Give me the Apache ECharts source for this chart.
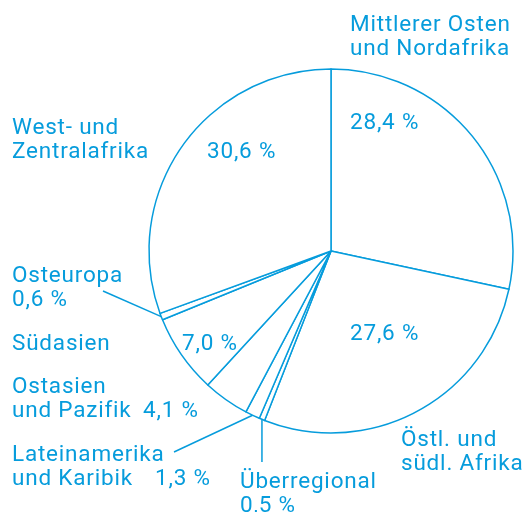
<!DOCTYPE html>
<html>
<head>
<meta charset="utf-8">
<script src="https://cdn.jsdelivr.net/npm/echarts@6/dist/echarts.min.js"></script>
<style>
  html, body { margin: 0; padding: 0; background: #fff; }
  #chart { width: 526px; height: 512px; }
</style>
</head>
<body>
<div id="chart"></div>
<script>
// clockwise from 12 o'clock
const regions = [
    'Mittlerer Osten\nund Nordafrika',
    'Östl. und\nsüdl. Afrika',
    'Überregional',
    'Lateinamerika\nund Karibik',
    'Ostasien\nund Pazifik',
    'Südasien',
    'Osteuropa',
    'West- und\nZentralafrika'
];
const shares = [28.4, 27.6, 0.5, 1.3, 4.1, 7.0, 0.6, 30.6];

// where the value goes: inside the slice, under the name, or beside the last name line
const valueInside = [true, true, false, false, false, true, false, true];
const valueBeside = [null, null, null, 143, 131, null, null, null];
const withLeader = [false, false, true, true, false, false, true, false];

// label placement (top-left of the text box)
const namePos = [[350, 13], [401, 428], [240, 470], [12, 443], [12, 375], [12, 332], [12, 264], [12, 116]];
const valuePos = [[350, 111], [350, 322], null, null, null, [182, 332], null, [207, 140]];
const leaderEnd = [null, null, [null, 462], [174, 452], null, null, [103, 291], null];

const blue = '#069cdc';
const fmt = v => v.toFixed(1).replace('.', ',') + ' %';

const textStyle = {
    color: blue,
    fontFamily: 'Roboto',
    fontSize: 22.5,
    lineHeight: 24
};

const chart = echarts.init(document.getElementById('chart'));

const pieBase = {
    type: 'pie',
    center: [331, 251],
    radius: 182,
    startAngle: 90,
    clockwise: true,
    avoidLabelOverlap: false,
    animation: false,
    emphasis: { disabled: true }
};

function nameLabel(p) {
    const i = p.dataIndex;
    if (valueInside[i]) return p.name;
    if (valueBeside[i] == null) return p.name + '\n' + fmt(p.value);
    const lines = p.name.split('\n');
    const last = lines.pop();
    return lines.concat('{n' + i + '|' + last + '}{v|' + fmt(p.value) + '}').join('\n');
}

const rich = { v: Object.assign({}, textStyle) };
valueBeside.forEach((w, i) => {
    if (w != null) rich['n' + i] = Object.assign({ width: w }, textStyle);
});

chart.setOption({
    animation: false,
    series: [
        Object.assign({}, pieBase, {
            itemStyle: { color: '#fff', borderColor: blue, borderWidth: 1.5 },
            label: Object.assign({
                show: true,
                position: 'outside',
                formatter: nameLabel,
                rich: rich
            }, textStyle),
            labelLine: { show: false, lineStyle: { color: blue, width: 1.5 }, length: 10, length2: 10 },
            labelLayout: params => {
                const i = params.dataIndex;
                const res = { x: namePos[i][0], y: namePos[i][1], align: 'left', verticalAlign: 'top' };
                if (withLeader[i] && params.labelLinePoints) {
                    const start = params.labelLinePoints[0];
                    const end = leaderEnd[i];
                    res.labelLinePoints = [start, [end[0] == null ? start[0] : end[0], end[1]]];
                }
                return res;
            },
            data: regions.map((name, i) => ({
                name: name,
                value: shares[i],
                labelLine: { show: withLeader[i] }
            }))
        }),
        Object.assign({}, pieBase, {
            silent: true,
            z: 3,
            itemStyle: { color: 'transparent', borderWidth: 0 },
            label: Object.assign({
                show: true,
                position: 'inside',
                formatter: p => fmt(p.value)
            }, textStyle),
            labelLine: { show: false },
            labelLayout: params => {
                const pos = valuePos[params.dataIndex];
                if (!pos) return {};
                return { x: pos[0], y: pos[1], align: 'left', verticalAlign: 'top' };
            },
            data: regions.map((name, i) => ({
                name: name,
                value: shares[i],
                label: { show: valueInside[i] }
            }))
        })
    ]
});

// the original type runs a bit wider than Roboto: open up the tracking and repaint
chart.getDom().querySelectorAll('canvas').forEach(c => {
    const ctx = c.getContext('2d');
    if ('letterSpacing' in ctx) ctx.letterSpacing = '0.8px';
});
chart.getZr().painter.refresh(true);
</script>
</body>
</html>
